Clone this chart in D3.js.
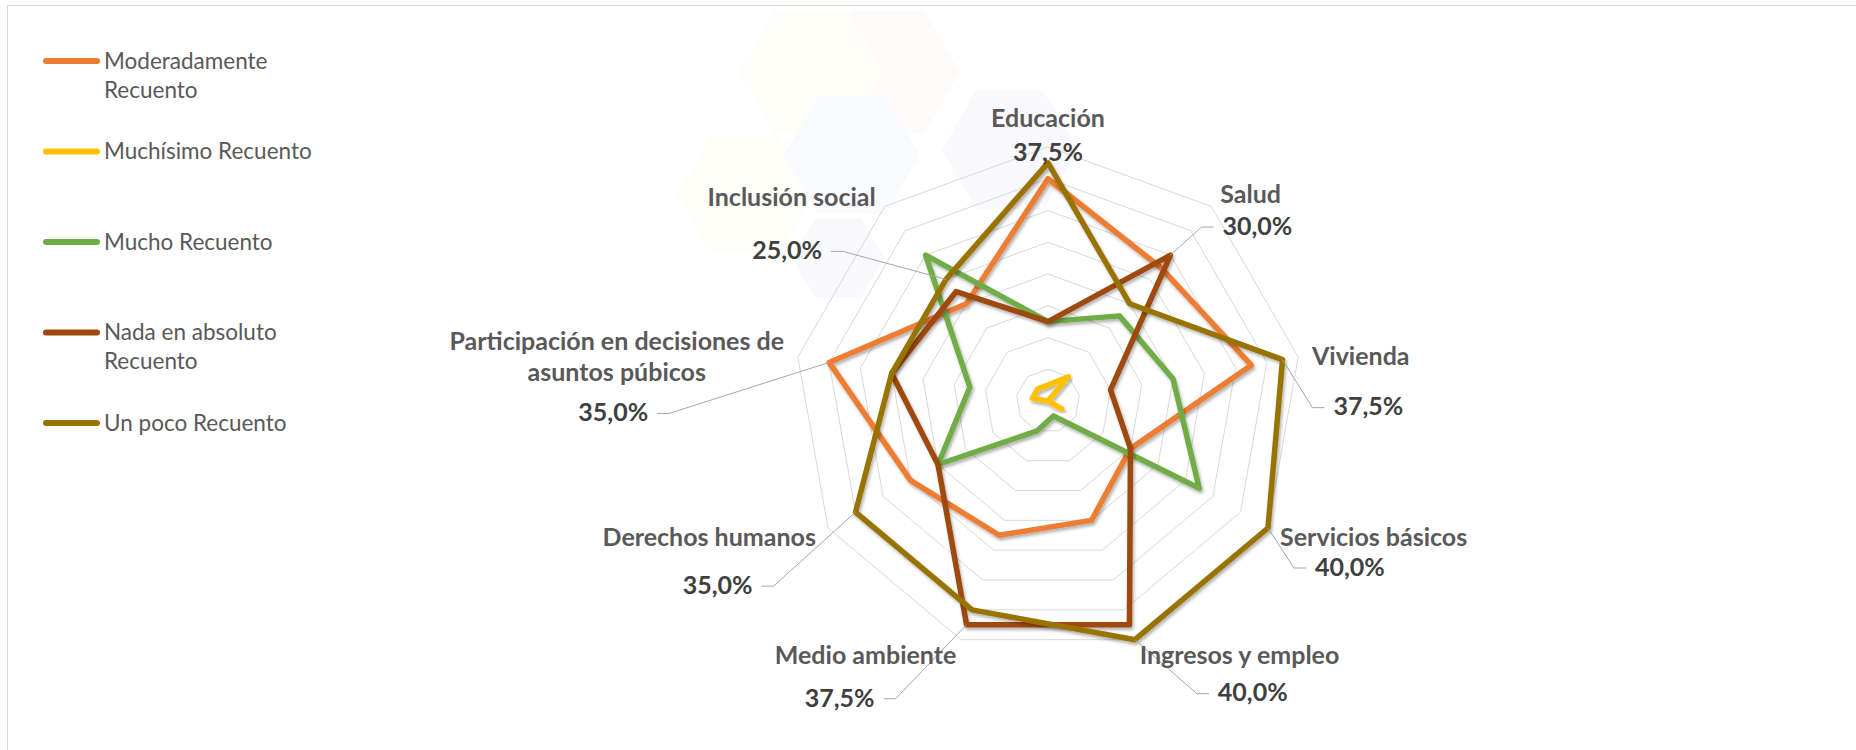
<!DOCTYPE html>
<html lang="es">
<head>
<meta charset="utf-8">
<title>Radar — Recuento por ámbito</title>
<script src="https://cdn.jsdelivr.net/npm/d3@7"></script>
<style>
  html, body { margin: 0; padding: 0; background: #ffffff; }
  svg { display: block; font-family: Lato, "Noto Sans", sans-serif; }
</style>
</head>
<body>
<svg id="chart" width="1856" height="750"></svg>
<script>
// ---- data ---------------------------------------------------------------
const categories = [
  "Educación", "Salud", "Vivienda", "Servicios básicos", "Ingresos y empleo",
  "Medio ambiente", "Derechos humanos",
  "Participación en decisiones de asuntos púbicos", "Inclusión social"
];
const seriesNames = [
  "Moderadamente Recuento", "Muchísimo Recuento", "Mucho Recuento",
  "Nada en absoluto Recuento", "Un poco Recuento"
];
// percentages per category, same order as `categories`
const moderadamente = [35, 27.5, 32.5, 15, 20, 22.5, 25, 35, 20];
const muchisimo     = [2.5, 5, 0, 2.5, 0, 0, 0, 2.5, 2.5];
const mucho         = [12.5, 17.5, 20, 27.5, 2.5, 5, 20, 12.5, 30];
const nada          = [12.5, 30, 10, 15, 37.5, 37.5, 20, 25, 22.5];
const unPoco        = [37.5, 20, 37.5, 40, 40, 35, 35, 25, 25];
const ringTicks     = [5, 10, 15, 20, 25, 30, 35, 40];
// index of the series whose value is labelled on each axis
const labelSeries   = [4, 3, 4, 4, 4, 3, 4, 0, 4];

// ---- layout & style -----------------------------------------------------
const W = 1856, H = 750;
const cx = 1048, cy = 401, R = 254;
const seriesColors = ["#ED7D31", "#FFC000", "#70AD47", "#9E480E", "#997300"];
// data-label offsets from the labelled vertex (px)
const labelOffsets = [[0, -11], [52, -29], [51, 47], [47, 39], [83, 53],
                      [-92, 73], [-103, 73], [-181, 50], [-124, -29]];
// category-label nudges (px), same order as `categories`
const catNudge = [0, -3, 0, 0, 0, 0, 0, 0, 0];
// faint honeycomb emblem behind the plot
const emblem = [
  { x: 888, y: 72,  r: 72, c: "#fefafa" },
  { x: 811, y: 72,  r: 72, c: "#fffdf7" },
  { x: 745, y: 195, r: 68, c: "#fffdf8" },
  { x: 1010, y: 150, r: 68, c: "#f9f8fc" },
  { x: 852, y: 155, r: 68, c: "#f9fafd" },
  { x: 838, y: 258, r: 46, c: "#f9f9fc" }
];
const FONT_BOLD = 25, FONT_REG = 22.5;

const seriesValues = [moderadamente, muchisimo, mucho, nada, unPoco];

const svg = d3.select("#chart");
const defs = svg.append("defs");
const shadow = defs.append("filter").attr("id", "lineShadow")
  .attr("x", "-10%").attr("y", "-10%").attr("width", "120%").attr("height", "120%");
shadow.append("feDropShadow")
  .attr("dx", 1.5).attr("dy", 2.5).attr("stdDeviation", 1.8)
  .attr("flood-color", "#000").attr("flood-opacity", 0.3);

// chart frame
svg.append("rect")
  .attr("x", 7.5).attr("y", 5.5).attr("width", W).attr("height", H)
  .attr("fill", "#ffffff").attr("stroke", "#d9d9d9").attr("stroke-width", 1);

// emblem hexagons (flat top)
svg.append("g").selectAll("path").data(emblem).join("path")
  .attr("d", h => "M" + d3.range(6).map(k => {
      const a = k * Math.PI / 3;
      return [h.x + h.r * Math.cos(a), h.y + h.r * Math.sin(a)];
    }).join("L") + "Z")
  .attr("fill", h => h.c);

// ---- scales ---------------------------------------------------------------
const r = d3.scaleLinear().domain([0, d3.max(ringTicks)]).range([0, R]);
const step = 2 * Math.PI / categories.length;
const radial = d3.lineRadial()
  .angle((d, i) => i * step)
  .radius(d => r(d))
  .curve(d3.curveLinearClosed);
const pos = (i, v) => [r(v) * Math.sin(i * step), -r(v) * Math.cos(i * step)];

const plot = svg.append("g").attr("transform", `translate(${cx},${cy})`);

// grid rings
plot.append("g").selectAll("path").data(ringTicks).join("path")
  .attr("d", t => radial(categories.map(() => t)))
  .attr("fill", "none").attr("stroke", "#d9d9d9").attr("stroke-width", 1);

// series outlines
plot.append("g").selectAll("path").data(seriesValues).join("path")
  .attr("d", radial)
  .attr("fill", "none")
  .attr("stroke", (d, i) => seriesColors[i])
  .attr("stroke-width", 5.5)
  .attr("stroke-linejoin", "round")
  .attr("filter", "url(#lineShadow)");

// ---- text helpers --------------------------------------------------------
const measurer = svg.append("text").attr("visibility", "hidden");
function textWidth(str, weight) {
  measurer.attr("font-size", weight >= 700 ? FONT_BOLD : FONT_REG)
    .attr("font-weight", weight).text(str);
  return measurer.node().getComputedTextLength();
}
function wrap(str, maxW, weight) {
  const words = str.split(" ");
  const lines = [];
  let cur = "";
  words.forEach(w => {
    const t = cur ? cur + " " + w : w;
    if (cur && textWidth(t, weight) > maxW) { lines.push(cur); cur = w; }
    else cur = t;
  });
  if (cur) lines.push(cur);
  return lines;
}

// ---- data labels with leader lines -------------------------------------------
const fmt = d3.formatLocale({ decimal: ",", thousands: ".", grouping: [3], currency: ["", "€"] })
  .format(".1%");
const leaderG = plot.append("g");
const valueG = plot.append("g");
labelSeries.forEach((s, i) => {
  const v = seriesValues[s][i];
  const [px, py] = pos(i, v);
  const [dx, dy] = labelOffsets[i];
  const lx = px + dx, ly = py + dy;
  const anchor = dx > 0 ? "start" : dx < 0 ? "end" : "middle";
  if (anchor !== "middle") {
    const dir = anchor === "start" ? -1 : 1;
    leaderG.append("polyline")
      .attr("points", [[px, py], [lx + dir * 21, ly + 1], [lx + dir * 9, ly + 1]].join(" "))
      .attr("fill", "none").attr("stroke", "#a6a6a6").attr("stroke-width", 1);
  }
  valueG.append("text")
    .attr("x", lx).attr("y", ly).attr("dy", "0.35em")
    .attr("text-anchor", anchor)
    .attr("font-size", FONT_BOLD).attr("font-weight", 700).attr("fill", "#404040")
    .text(fmt(v / 100));
});

// ---- category labels ----------------------------------------------------------
const catG = plot.append("g");
const labelR = R + 14, lineH = 31;
categories.forEach((name, i) => {
  const a = i * step;
  const ax = labelR * Math.sin(a), ay = -labelR * Math.cos(a) + catNudge[i];
  const lines = wrap(name, 360, 700);
  const blockW = d3.max(lines, l => textWidth(l, 700));
  let x, anchor, y0;
  if (Math.abs(Math.sin(a)) < 1e-6) {
    anchor = "middle"; x = ax;
    y0 = ay - 15 - (lines.length - 1) * lineH;
  } else {
    const right = Math.sin(a) > 0;
    if (lines.length > 1) { anchor = "middle"; x = right ? ax + blockW / 2 : ax - blockW / 2; }
    else { anchor = right ? "start" : "end"; x = ax; }
    y0 = ay - (lines.length - 1) * lineH / 2 + 2;
  }
  const t = catG.append("text")
    .attr("text-anchor", anchor)
    .attr("font-size", FONT_BOLD).attr("font-weight", 700).attr("fill", "#595959");
  lines.forEach((l, k) => t.append("tspan").attr("x", x).attr("y", y0 + k * lineH)
    .attr("dy", "0.35em").text(l));
});

// ---- legend -------------------------------------------------------------------------
const legend = svg.append("g");
const legendTop = 61, legendStep = 90.5;
seriesNames.forEach((n, i) => {
  const y = legendTop + i * legendStep;
  legend.append("line")
    .attr("x1", 46).attr("x2", 97).attr("y1", y).attr("y2", y)
    .attr("stroke", seriesColors[i]).attr("stroke-width", 6).attr("stroke-linecap", "round");
  const t = legend.append("text")
    .attr("font-size", FONT_REG).attr("fill", "#595959");
  wrap(n, 225, 400).forEach((l, k) => t.append("tspan")
    .attr("x", 104).attr("y", y + k * 29).attr("dy", "0.35em").text(l));
});
measurer.remove();
</script>
</body>
</html>
